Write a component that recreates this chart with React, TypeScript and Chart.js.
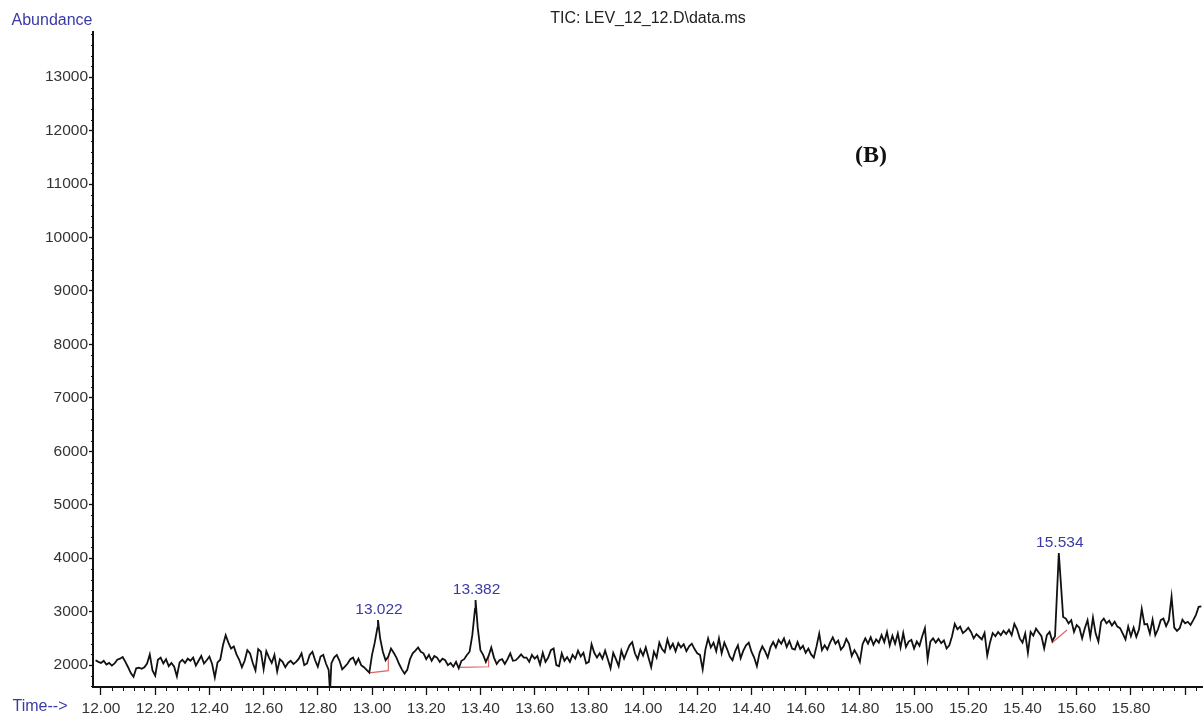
import React, { useEffect, useRef } from 'react';
import { Chart, registerables } from 'chart.js';

Chart.register(...registerables);

const CANVAS_W = 1203;
const CANVAS_H = 718;

// Total ion chromatogram, sampled every 0.01 min from 11.98 min
const scanStart = 11.98;
const scanStep = 0.01;
const abundance = [
  // 11.98 – 12.72
  2090, 2060, 2040, 2080, 2010, 2040, 1990, 2030, 2100, 2120,
  2150, 2060, 1960, 1850, 1780, 1940, 1950, 1930, 1960, 2030,
  2200, 1900, 1800, 2100, 2140, 2030, 2110, 1980, 2040, 1970,
  1790, 2050, 2100, 2040, 2120, 2080, 2140, 1990, 2080, 2170,
  2030, 2090, 2160, 2020, 1770, 2050, 2100, 2370, 2560, 2420,
  2310, 2350, 2200, 2100, 1960, 2080, 2280, 2220, 2040, 1900,
  2300, 2250, 1920, 2260, 2140, 2040, 2190, 1880, 2110, 2060,
  1960, 2040, 2080, 2020, 2060,
  // 12.73 – 13.56
  2120, 2220, 2000, 2030, 2190, 2250, 2090, 1970, 2160, 2190,
  2030, 1910, 2030, 2140, 2190, 2080, 1920, 1970, 2030, 2110,
  2140, 2020, 2120, 2000, 1960, 1910, 1860, 2190, 2420, 2700,
  2500, 2250, 2090, 2160, 2310, 2230, 2140, 2020, 1920, 1840,
  1910, 2110, 2220, 2270, 2330, 2250, 2220, 2110, 2190, 2080,
  2170, 2140, 2060, 2120, 2090, 2000, 2040, 1970, 2060, 1940,
  2080, 2110, 2190, 2250, 2560, 3050, 2700, 2280, 2190, 2060,
  2170, 2330, 2140, 2020, 2090, 2110, 2020, 2110, 2220, 2080,
  2090, 2140, 2200, 2140,
  // 13.57 – 14.39
  2140, 2060, 2190, 2120, 2170, 2010, 2230, 2060, 2140, 2280,
  2310, 2000, 1980, 2220, 2080, 2150, 2060, 2190, 2120, 2270,
  2160, 2230, 2030, 2060, 2390, 2230, 2140, 2220, 2120, 2270,
  2110, 1940, 2230, 2110, 1980, 2270, 2120, 2250, 2370, 2430,
  2220, 2110, 2290, 2180, 2330, 2140, 1960, 2250, 2140, 2420,
  2300, 2240, 2480, 2310, 2400, 2260, 2410, 2330, 2390, 2260,
  2350, 2400, 2300, 2220, 2190, 1920, 2290, 2500, 2330, 2420,
  2260, 2500, 2220, 2420, 2300, 2160, 2090, 2260, 2370, 2130,
  2270, 2370, 2420,
  // 14.40 – 15.21
  2250, 2140, 1980, 2230, 2350, 2260, 2140, 2330, 2430, 2330,
  2470, 2400, 2500, 2340, 2450, 2310, 2290, 2430, 2300, 2360,
  2230, 2310, 2200, 2140, 2350, 2590, 2280, 2370, 2290, 2420,
  2520, 2400, 2460, 2290, 2350, 2490, 2400, 2170, 2280, 2190,
  2060, 2390, 2500, 2400, 2520, 2380, 2480, 2420, 2560, 2430,
  2620, 2370, 2550, 2400, 2590, 2330, 2600, 2340, 2440, 2470,
  2310, 2440, 2360, 2540, 2690, 2110, 2440, 2500, 2420, 2490,
  2410, 2460, 2310, 2370, 2540, 2770, 2670, 2720, 2600, 2640,
  2700, 2620,
  // 15.22 – 16.06
  2500, 2580, 2530, 2480, 2600, 2180, 2420, 2600, 2540, 2620,
  2560, 2640, 2580, 2660, 2560, 2770, 2670, 2500, 2420, 2590,
  2230, 2620, 2550, 2680, 2610, 2540, 2310, 2560, 2620, 2450,
  2540, 3650, 3650, 2900, 2870, 2780, 2840, 2620, 2750, 2700,
  2500, 2690, 2840, 2530, 2890, 2590, 2440, 2810, 2870, 2780,
  2830, 2740, 2810, 2720, 2690, 2590, 2480, 2720, 2540, 2700,
  2530, 2670, 3050, 2760, 2770, 2590, 2850, 2560, 2670, 2840,
  2870, 2730, 2840, 3280, 2700, 2640, 2690, 2850, 2780, 2810,
  2750, 2840, 2940, 3090, 3100,
];

// Single-scan dropout that runs off the bottom of the plot
const dropoutTimes = [12.845];
const dropoutAbundance = [1500];

// Integrated peaks: apex retention time, apex abundance, label
const peakTimes = [13.022, 13.382, 15.534];
const peakApex = [2842, 3216, 4095];
const peakLabels = ['13.022', '13.382', '15.534'];

// Integration baselines drawn under each peak
const baselineTimes = [
  [12.99, 13.06, 13.06],
  [13.325, 13.43, 13.43],
  [15.508, 15.564],
];
const baselineAbundance = [
  [1856, 1895, 2156],
  [1957, 1969, 2168],
  [2412, 2655],
];

// Axes
const timeMin = 11.9705;
const timeMax = 16.066;
const timeTicks = [
  12.0, 12.2, 12.4, 12.6, 12.8, 13.0, 13.2, 13.4, 13.6, 13.8, 14.0,
  14.2, 14.4, 14.6, 14.8, 15.0, 15.2, 15.4, 15.6, 15.8, 16.0,
];
const timeTickLabels = [
  '12.00', '12.20', '12.40', '12.60', '12.80', '13.00', '13.20', '13.40',
  '13.60', '13.80', '14.00', '14.20', '14.40', '14.60', '14.80', '15.00',
  '15.20', '15.40', '15.60', '15.80', '',
];
const timeMinorStep = 0.04;
const abundanceMin = 1590;
const abundanceMax = 13840;
const abundanceTicks = [
  2000, 3000, 4000, 5000, 6000, 7000, 8000, 9000, 10000, 11000, 12000, 13000,
];
const abundanceMinorStep = 200;

const SANS = "'Liberation Sans', Arial, sans-serif";
const SERIF = "'Liberation Serif', 'Times New Roman', serif";
const AXIS_COLOR = '#111';
const LABEL_BLUE = '#3a3aa6';

const chromPlugin = {
  id: 'chromDecor',
  afterDraw(chart: any) {
    const { ctx, chartArea, scales } = chart;
    const xs = scales.x;
    const ys = scales.y;
    ctx.save();

    // minor tick marks
    ctx.strokeStyle = AXIS_COLOR;
    ctx.lineWidth = 1;
    ctx.beginPath();
    for (let k = Math.ceil(timeMin / timeMinorStep); k * timeMinorStep <= timeMax; k++) {
      const t = k * timeMinorStep;
      if (Math.abs(t * 5 - Math.round(t * 5)) < 1e-6) continue;
      const px = Math.round(xs.getPixelForValue(t)) + 0.5;
      ctx.moveTo(px, chartArea.bottom);
      ctx.lineTo(px, chartArea.bottom + 4);
    }
    for (let v = 1600; v <= abundanceMax; v += abundanceMinorStep) {
      if (v % 1000 === 0) continue;
      const py = Math.round(ys.getPixelForValue(v)) + 0.5;
      ctx.moveTo(chartArea.left - 2, py);
      ctx.lineTo(chartArea.left, py);
    }
    ctx.stroke();

    // peak retention-time labels
    ctx.fillStyle = LABEL_BLUE;
    ctx.font = `15.5px ${SANS}`;
    ctx.textAlign = 'center';
    ctx.textBaseline = 'middle';
    peakTimes.forEach((t, i) => {
      const px = xs.getPixelForValue(t) + 1;
      const py = ys.getPixelForValue(peakApex[i]) - 10;
      ctx.fillText(peakLabels[i], px, py);
    });

    // axis captions
    ctx.font = `16px ${SANS}`;
    ctx.fillText('Abundance', 52, 21);
    ctx.fillText('Time-->', 40, 707);

    // panel tag
    ctx.fillStyle = '#111';
    ctx.font = `bold 24px ${SERIF}`;
    ctx.fillText('(B)', 871, 156);
    ctx.restore();
  },
};

export default function App() {
  const canvasRef = useRef<HTMLCanvasElement | null>(null);

  useEffect(() => {
    const canvas = canvasRef.current;
    if (!canvas) return;

    const trace: { x: number; y: number }[] = abundance.map((v, i) => ({
      x: +(scanStart + i * scanStep).toFixed(3),
      y: v,
    }));
    dropoutTimes.forEach((t, i) => trace.push({ x: t, y: dropoutAbundance[i] }));
    peakTimes.forEach((t, i) => trace.push({ x: t, y: peakApex[i] }));
    trace.sort((a, b) => a.x - b.x);

    const baselineSets = baselineTimes.map((ts, j) => ({
      data: ts.map((t, i) => ({ x: t, y: baselineAbundance[j][i] })),
      showLine: true,
      borderColor: 'rgb(226,100,100)',
      borderWidth: 1.2,
      pointRadius: 0,
      tension: 0,
    }));

    const tickFont = { family: SANS, size: 15.5 };

    const chart = new Chart(canvas, {
      type: 'scatter',
      data: {
        datasets: [
          {
            data: trace,
            showLine: true,
            borderColor: '#111',
            borderWidth: 1.8,
            pointRadius: 0,
            tension: 0,
          },
          ...baselineSets,
        ],
      },
      options: {
        responsive: false,
        animation: false,
        events: [],
        layout: { padding: 0 },
        plugins: {
          legend: { display: false },
          tooltip: { enabled: false },
          title: {
            display: true,
            text: 'TIC: LEV_12_12.D\\data.ms',
            fullSize: false,
            color: '#222',
            padding: { top: 9, bottom: 4 },
            font: { family: SANS, size: 16, weight: 'normal', lineHeight: 1.2 },
          },
        },
        scales: {
          x: {
            type: 'linear',
            min: timeMin,
            max: timeMax,
            afterFit: (s: any) => {
              s.height = CANVAS_H - 687;
            },
            afterBuildTicks: (s: any) => {
              s.ticks = timeTicks.map((v) => ({ value: v }));
            },
            ticks: {
              autoSkip: false,
              maxRotation: 0,
              minRotation: 0,
              padding: 4,
              color: '#333',
              font: tickFont,
              callback: (_v: any, i: number) => timeTickLabels[i] ?? '',
            },
            grid: {
              drawOnChartArea: false,
              drawTicks: true,
              tickLength: 8,
              tickColor: AXIS_COLOR,
              tickWidth: 1.3,
            },
            border: { display: true, color: AXIS_COLOR, width: 2 },
          },
          y: {
            type: 'linear',
            min: abundanceMin,
            max: abundanceMax,
            afterFit: (s: any) => {
              s.width = 93;
            },
            afterBuildTicks: (s: any) => {
              s.ticks = abundanceTicks.map((v) => ({ value: v }));
            },
            ticks: {
              padding: 1,
              color: '#333',
              font: tickFont,
              callback: (v: any) => String(v),
            },
            grid: {
              drawOnChartArea: false,
              drawTicks: true,
              tickLength: 4,
              tickColor: AXIS_COLOR,
              tickWidth: 1.3,
            },
            border: { display: true, color: AXIS_COLOR, width: 2 },
          },
        },
      },
      plugins: [chromPlugin],
    } as any);

    return () => chart.destroy();
  }, []);

  return (
    <div
      style={{
        position: 'fixed',
        left: 0,
        top: 0,
        width: CANVAS_W,
        height: CANVAS_H,
        background: '#fff',
      }}
    >
      <canvas
        ref={canvasRef}
        width={CANVAS_W}
        height={CANVAS_H}
        style={{ display: 'block', width: CANVAS_W, height: CANVAS_H }}
      />
    </div>
  );
}
